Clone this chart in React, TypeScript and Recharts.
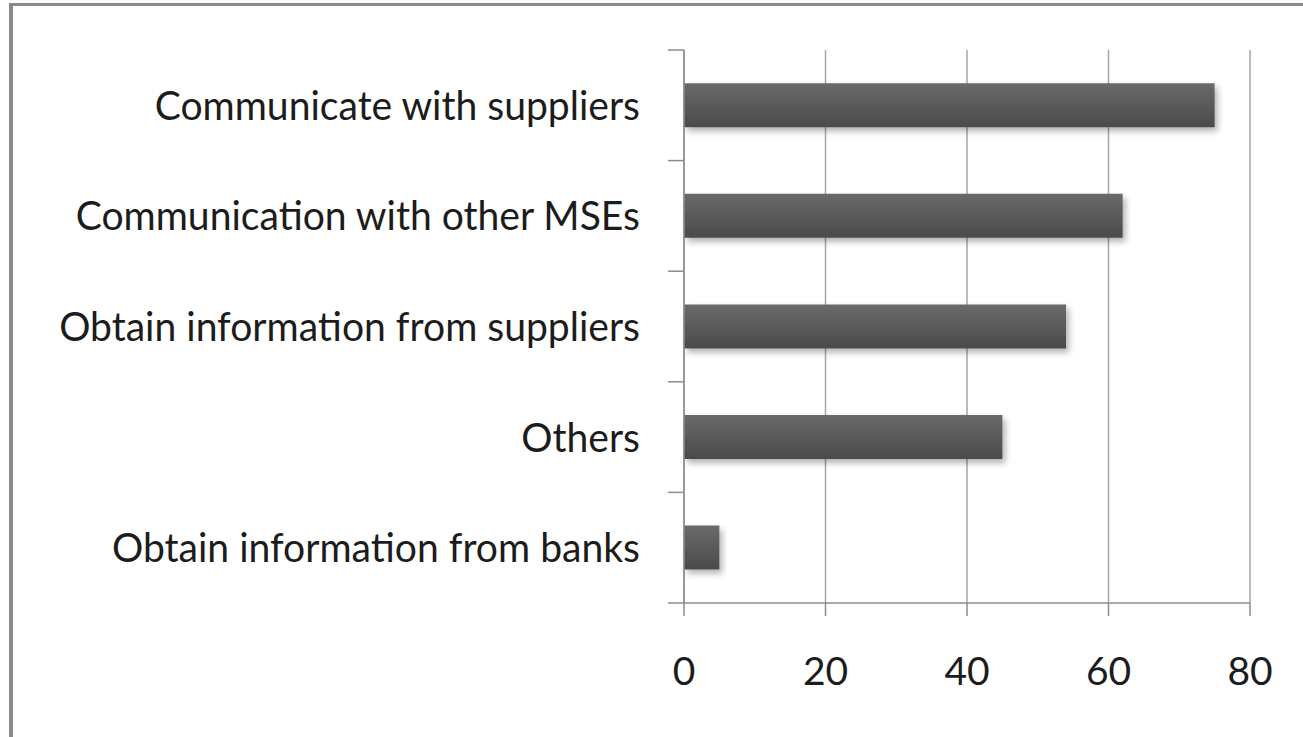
import React from 'react';
import { BarChart, Bar, XAxis, YAxis, CartesianGrid } from 'recharts';

// categories top to bottom, as in the picture
const categories = [
  'Communicate with suppliers',
  'Communication with other MSEs',
  'Obtain information from suppliers',
  'Others',
  'Obtain information from banks',
];
const values = [75, 62, 54, 45, 5];
const xTicks = [0, 20, 40, 60, 80];

const data = categories.map((name, i) => ({ name, value: values[i] }));

const W = 1303;
const H = 737;
const PLOT_TOP = 50;
const PLOT_LEFT = 684;
const PLOT_RIGHT = 1250;
const PLOT_BOTTOM = 603;
const BAND = (PLOT_BOTTOM - PLOT_TOP) / categories.length;
const FONT = 'Lato, "Open Sans", sans-serif';
const AXIS_GREY = '#8c8c8c';
const GRID_GREY = '#a6a6a6';
const TEXT = '#1c1c1c';

const CategoryTick = (props: any) => {
  const { y, payload, index } = props;
  const top = y - BAND / 2;
  return (
    <g>
      <line x1={668} x2={PLOT_LEFT} y1={top} y2={top} stroke={AXIS_GREY} strokeWidth={1.5} />
      {index === categories.length - 1 && (
        <line x1={668} x2={PLOT_LEFT} y1={y + BAND / 2} y2={y + BAND / 2} stroke={AXIS_GREY} strokeWidth={1.5} />
      )}
      {/* Calibri in the original is a little narrower than Lato */}
      <text
        transform={`translate(640, ${y + 14.5}) scale(0.977, 1)`}
        textAnchor="end"
        fontFamily={FONT}
        fontSize={40}
        fill={TEXT}
      >
        {payload.value}
      </text>
    </g>
  );
};

const ValueTick = (props: any) => {
  const { x, payload } = props;
  return (
    <text x={x} y={PLOT_BOTTOM + 82} textAnchor="middle" fontFamily={FONT} fontSize={39} fill={TEXT}>
      {payload.value}
    </text>
  );
};

export default function App() {
  return (
    <div style={{ position: 'absolute', left: 0, top: 0, width: W, height: H, overflow: 'hidden', background: '#fff' }}>
      <div
        style={{
          position: 'absolute',
          left: 9,
          top: 3,
          width: W + 50,
          height: H + 50,
          borderTop: '3px solid #8a8a8a',
          borderLeft: '4px solid #8a8a8a',
          boxSizing: 'border-box',
        }}
      />
      <div style={{ position: 'absolute', left: 0, top: 0 }}>
        <BarChart
          width={W}
          height={H}
          data={data}
          layout="vertical"
          margin={{ top: PLOT_TOP, right: W - PLOT_RIGHT, bottom: 0, left: 0 }}
          barCategoryGap="30%"
        >
          <defs>
            <linearGradient id="barFill" x1="0" y1="0" x2="0" y2="1">
              <stop offset="0%" stopColor="#6a6a6a" />
              <stop offset="100%" stopColor="#4a4a4a" />
            </linearGradient>
            <filter id="barShadow" x="-10%" y="-20%" width="130%" height="160%">
              <feDropShadow dx={3} dy={4} stdDeviation={3} floodColor="#000" floodOpacity={0.3} />
            </filter>
          </defs>
          <CartesianGrid horizontal={false} stroke={GRID_GREY} strokeWidth={1.5} />
          <XAxis
            type="number"
            domain={[0, 80]}
            ticks={xTicks}
            height={H - PLOT_BOTTOM}
            axisLine={{ stroke: AXIS_GREY, strokeWidth: 1.5 }}
            tickLine={{ stroke: AXIS_GREY, strokeWidth: 1.5 }}
            tickSize={13}
            tickMargin={0}
            tick={<ValueTick />}
            interval={0}
          />
          <YAxis
            type="category"
            dataKey="name"
            width={PLOT_LEFT}
            axisLine={{ stroke: AXIS_GREY, strokeWidth: 1.5 }}
            tickLine={false}
            tick={<CategoryTick />}
            interval={0}
          />
          <Bar dataKey="value" fill="url(#barFill)" filter="url(#barShadow)" isAnimationActive={false} />
        </BarChart>
      </div>
    </div>
  );
}
